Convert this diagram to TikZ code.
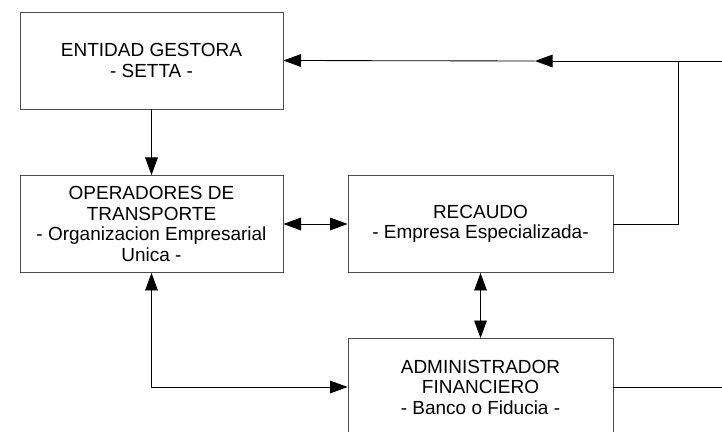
\documentclass[tikz,border=0pt]{standalone}
\usepackage{fontspec}
\setmainfont{Liberation Sans}
\usepackage{tikz}
\usetikzlibrary{arrows.meta,positioning}

\begin{document}
\begin{tikzpicture}[
    x=0.025cm, y=-0.025cm,
    >={Triangle[length=12.5pt,width=9pt]},
    line width=0.6pt,
    every node/.style={font=\fontsize{13.5}{14.6}\selectfont},
    caja/.style={draw=black!70, align=center, inner sep=0pt,
        minimum width=263*0.025cm, minimum height=97*0.025cm},
    flecha/.style={->}
]
\useasboundingbox (0,0) rectangle (722,432);
\clip (0,0) rectangle (722,432);

%------------------------------------------------
% Entidades
%------------------------------------------------
\node[caja] (gestora) at (151.5,60.5) {ENTIDAD GESTORA\\- SETTA -};
\node[caja] (operadores) at (151.5,224) {OPERADORES DE\\TRANSPORTE\\- Organizacion Empresarial\\Unica -};
\node[caja,minimum width=265*0.025cm] (recaudo) at (480.5,224) {RECAUDO\\- Empresa Especializada-};
\node[caja,minimum width=265*0.025cm] (admin) at (480.5,387) {ADMINISTRADOR\\FINANCIERO\\- Banco o Fiducia -};

%------------------------------------------------
% Puntos libres
%------------------------------------------------
\coordinate (derecha) at (722,61);
\coordinate (medio) at (535,61);
\coordinate (union) at (678,61);
\coordinate (salida) at (722,387);

%------------------------------------------------
% Flujos
%------------------------------------------------

% gestora -> operadores
\draw[flecha] (gestora.south) -- (operadores.north);

% operadores <-> recaudo
\draw[<->] (operadores.east) -- (recaudo.west);

% recaudo <-> admin
\draw[<->] (recaudo.south) -- (admin.north);

% operadores <-> admin
\draw[<->] (operadores.south) |- (admin.west);

% retorno hacia la gestora
\draw[flecha] (derecha) -- (medio);
\draw[flecha] (medio) -- (gestora.east);
\draw (recaudo.east) -| (union);

% salida del administrador
\draw (admin.east) -- (salida);

\end{tikzpicture}
\end{document}
